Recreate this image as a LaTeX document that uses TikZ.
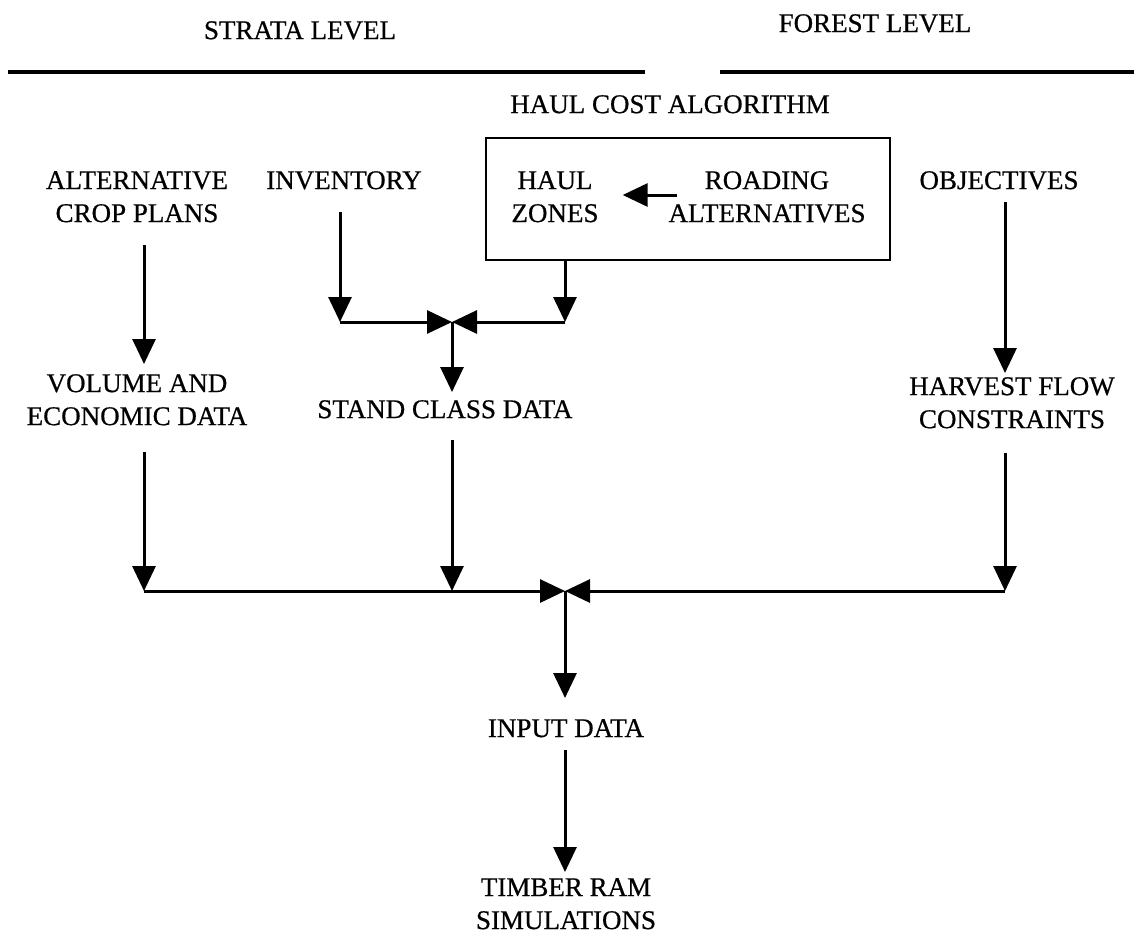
\documentclass[tikz,border=0pt]{standalone}
\usepackage{fontspec}
\setmainfont[FakeBold=0.6]{Liberation Serif}
\usetikzlibrary{arrows.meta,calc}
\begin{document}
\begin{tikzpicture}[x=1pt,y=-1pt,
  lbl/.style={font=\fontsize{27}{33}\selectfont, inner sep=0pt, align=center, anchor=north},
  arr/.style={line width=3pt, -{Triangle[length=25pt,width=23pt]}},
  rule/.style={line width=4pt},
  boxst/.style={draw, line width=2.5pt, minimum width=404pt, minimum height=122pt, inner sep=0pt}
  ]
\useasboundingbox (0,0) rectangle (1134,938);

% headers
\node[lbl] (strata) at (300,21) {STRATA LEVEL};
\node[lbl] (forest) at (875,14) {FOREST LEVEL};
\coordinate (l1a) at (8,72);
\coordinate (l1b) at (645,72);
\coordinate (l2a) at (720,72);
\coordinate (l2b) at (1134,72);
\draw[rule] (l1a) -- (l1b);
\draw[rule] (l2a) -- (l2b);

% haul cost algorithm
\node[lbl] (haulcost) at (670,95) {HAUL COST ALGORITHM};
\node[boxst] (box) at (688,199) {};
\node[lbl] (zones) at (555,171) {HAUL\\ZONES};
\node[lbl] (road) at (767,171) {ROADING\\ALTERNATIVES};
\draw[arr] ($(road.north west)+(9,24)$) -- ($(zones.north east)+(24,24)$);

% top row
\node[lbl] (alt) at (137,171) {ALTERNATIVE\\CROP PLANS};
\node[lbl] (inv) at (344,171) {INVENTORY};
\node[lbl] (obj) at (999,171) {OBJECTIVES};

% middle row
\node[lbl] (vol) at (137,374) {VOLUME AND\\ECONOMIC DATA};
\node[lbl] (stand) at (445,400) {STAND CLASS DATA};
\node[lbl] (harv) at (1012,377) {HARVEST FLOW\\CONSTRAINTS};

% bottom
\node[lbl] (input) at (566,719) {INPUT DATA};
\node[lbl] (timber) at (566,878) {TIMBER RAM\\SIMULATIONS};

% junction coordinates
\coordinate (c1) at (340,322);
\coordinate (c2) at (565,322);
\coordinate (j1) at (452,322);
\coordinate (c3) at (144,591);
\coordinate (c4) at (452,591);
\coordinate (c5) at (1005,591);
\coordinate (j2) at (565,591);

% upper connectors
\draw[arr] ($(alt.north)+(7,74)$) -- ($(vol.north)+(7,-10)$);
\draw[arr] ($(inv.north -| c1)+(0,41)$) -- (c1);
\draw[arr] (box.south -| c2) -- (c2);
\draw[arr] (c1) -- (j1);
\draw[arr] (c2) -- (j1);
\draw[arr] (j1) -- ($(stand.north -| j1)+(0,-8)$);
\draw[arr] ($(obj.north -| c5)+(0,31)$) -- ($(harv.north -| c5)+(0,-4)$);

% lower connectors
\draw[arr] ($(vol.north -| c3)+(0,78)$) -- (c3);
\draw[arr] ($(stand.north -| c4)+(0,40)$) -- (c4);
\draw[arr] ($(harv.north -| c5)+(0,76)$) -- (c5);
\draw[arr] (c3) -- (j2);
\draw[arr] (c5) -- (j2);
\draw[arr] (j2) -- ($(input.north -| j2)+(0,-21)$);
\draw[arr] ($(input.north -| j2)+(0,31)$) -- ($(timber.north -| j2)+(0,-6)$);
\end{tikzpicture}
\end{document}
